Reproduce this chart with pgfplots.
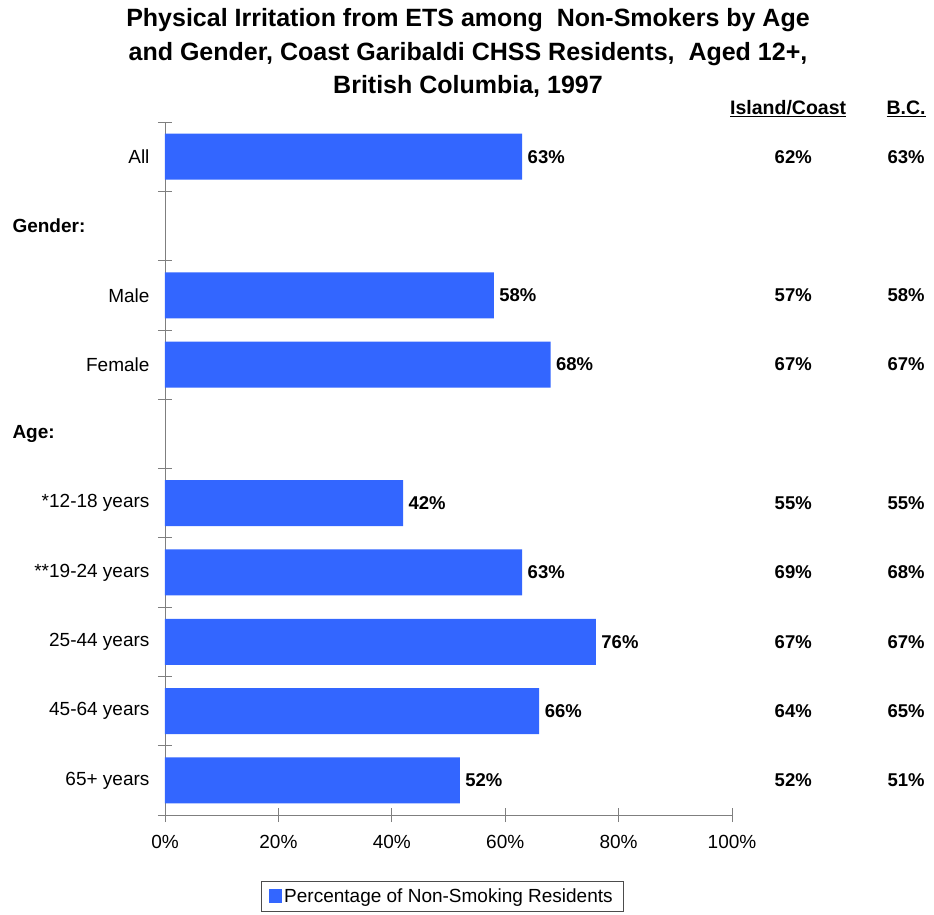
\documentclass[border=0pt]{standalone}
\usepackage{fontspec}
\setmainfont{Liberation Sans}
\usepackage{pgfplots}
\pgfplotsset{compat=1.18}
\definecolor{barblue}{HTML}{3366FF}
\definecolor{axisgray}{HTML}{7F7F7F}

\begin{document}
\begin{tikzpicture}
\begin{axis}[
    at={(0,0)}, anchor=south west,
    scale only axis,
    width=567pt, height=693pt,
    xmin=0, xmax=100,
    ymin=-0.5, ymax=9.5,
    y dir=reverse,
    clip=false,
    axis x line=bottom, axis y line=left,
    axis line style={-, draw=axisgray, line width=0.8pt},
    tick style={draw=axisgray, line width=0.8pt},
    tick align=center,
    major tick length=14pt,
    xtick={0,20,40,60,80,100},
    xticklabel={\pgfmathprintnumber{\tick}\%},
    xticklabel style={yshift=-10pt},
    ytick={-0.5,0.5,1.5,2.5,3.5,4.5,5.5,6.5,7.5,8.5,9.5},
    yticklabels={,,,,,,,,,,},
    extra y ticks={0,2,3,5,6,7,8,9},
    extra y tick labels={All,Male,Female,*12-18 years,**19-24 years,25-44 years,45-64 years,65+ years},
    extra y tick style={major tick length=0pt, yticklabel style={xshift=-12pt}},
    /pgf/number format/assume math mode=true,
    tick label style={font=\fontsize{19}{22}\selectfont},
    legend style={at={(0.4885,-0.117)}, anchor=center, draw=black!70,
        font=\fontsize{19}{22}\selectfont, inner xsep=8pt, inner ysep=5pt},
    legend image code/.code={\fill[barblue] (0pt,-7pt) rectangle (13pt,7pt);},
]
% bars
\addplot[xbar, bar width=46pt, fill=barblue, draw=none,
    point meta=x,
    nodes near coords={\pgfmathprintnumber{\pgfplotspointmeta}\%},
    nodes near coords style={font=\fontsize{18.5}{21}\selectfont\bfseries, anchor=west, xshift=2pt},
] coordinates {
    (63,0) (58,2) (68,3) (42,5) (63,6) (76,7) (66,8) (52,9)
};
\addlegendentry{Percentage of Non-Smoking Residents}
% Island/Coast column
\addplot[draw=none, mark=none, forget plot, point meta=explicit,
    nodes near coords={\pgfmathprintnumber{\pgfplotspointmeta}\%},
    nodes near coords style={font=\fontsize{18.5}{21}\selectfont\bfseries, anchor=center},
] coordinates {
    (110.8,0) [62] (110.8,2) [57] (110.8,3) [67] (110.8,5) [55]
    (110.8,6) [69] (110.8,7) [67] (110.8,8) [64] (110.8,9) [52]
};
% B.C. column
\addplot[draw=none, mark=none, forget plot, point meta=explicit,
    nodes near coords={\pgfmathprintnumber{\pgfplotspointmeta}\%},
    nodes near coords style={font=\fontsize{18.5}{21}\selectfont\bfseries, anchor=center},
] coordinates {
    (130.7,0) [63] (130.7,2) [58] (130.7,3) [67] (130.7,5) [55]
    (130.7,6) [68] (130.7,7) [67] (130.7,8) [65] (130.7,9) [51]
};
\node[anchor=west, font=\fontsize{19}{22}\selectfont\bfseries] at (axis cs:0,1) [xshift=-156pt] {Gender:};
\node[anchor=west, font=\fontsize{19}{22}\selectfont\bfseries] at (axis cs:0,4) [xshift=-156pt] {Age:};
\node[font=\fontsize{19.5}{22}\selectfont\bfseries] at (axis cs:109.9,-0.69) {\underline{Island/Coast}};
\node[font=\fontsize{19.5}{22}\selectfont\bfseries] at (axis cs:130.7,-0.69) {\underline{B.C.}};
\end{axis}
\node[align=center, font=\fontsize{25}{33.5}\selectfont\bfseries] at (303pt,762pt)
    {Physical Irritation from ETS among\ \ Non-Smokers by Age\\
     and Gender, Coast Garibaldi CHSS Residents,\ \ Aged 12+,\\
     British Columbia, 1997};
\path[use as bounding box] (-165pt,-99pt) rectangle (769pt,815pt);
\end{tikzpicture}
\end{document}
